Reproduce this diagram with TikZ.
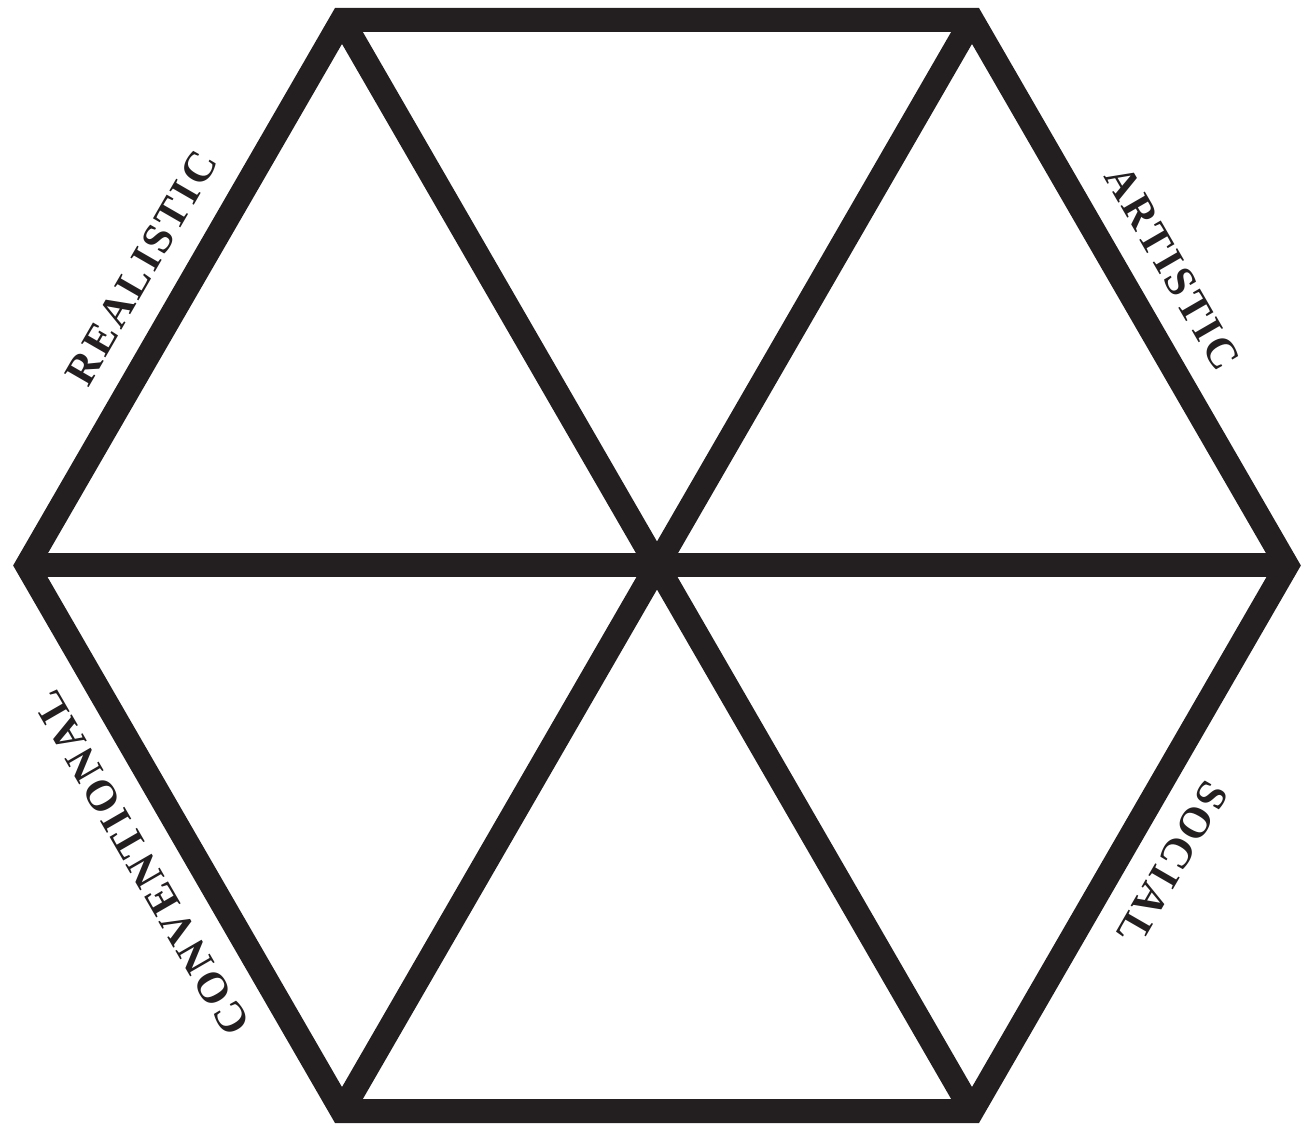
\documentclass[tikz,border=0pt]{standalone}
\usepackage{fontspec}
\setmainfont{Liberation Serif}
\newfontfamily\hexfont{Liberation Serif}[LetterSpace=7]
\usetikzlibrary{positioning}
\definecolor{hexInk}{HTML}{231F20}

\begin{document}
\begin{tikzpicture}[
      edge/.style={draw=hexInk, line width=0.48cm, line join=miter},
      lbl/.style={midway, sloped, allow upside down, above=0.46cm, inner sep=0pt,
        font=\hexfont\fontsize{24.5}{30}\selectfont\bfseries, text=hexInk}]
    \useasboundingbox (-13.14,-11.17) rectangle (12.94,11.31);
    \coordinate (o) at (0,0);
    \foreach \a/\n in {180/l, 120/tl, 60/tr, 0/r, -60/br, -120/bl}
      \coordinate (\n) at (\a:12.6);
    % spokes through the centre
    \draw[edge] (l) -- (o) -- (r);
    \draw[edge] (tl) -- (o) -- (br);
    \draw[edge] (tr) -- (o) -- (bl);
    % outer hexagon with the four labels
    \draw[edge] (l) -- node[lbl] {REALISTIC} (tl) -- (tr) -- node[lbl] {ARTISTIC} (r)
      -- node[lbl] {SOCIAL} (br) -- (bl) -- node[lbl] {CONVENTIONAL} cycle;
\end{tikzpicture}
\end{document}
